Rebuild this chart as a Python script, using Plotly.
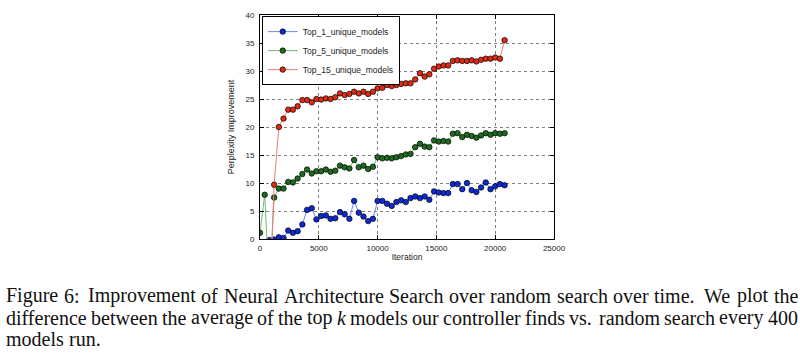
import plotly.graph_objects as go

# ---- data ----
iterations = [i * 400 for i in range(53)]

top1 = [None, -10, -0.2, -0.1, 0.3, 0.2, 1.5, 1.1, 1.4, 2.6,
        5.2, 5.5, 3.5, 4.1, 4.2, 3.6, 3.7, 4.8, 4.4, 3.6,
        6.8, 4.7, 4.0, 3.2, 3.6, 6.8, 6.8, 6.3, 5.9, 6.6,
        6.9, 6.6, 7.3, 7.6, 7.3, 7.6, 7.0, 8.5, 8.3, 8.2,
        8.2, 9.8, 9.8, 8.9, 10.0, 8.7, 8.4, 9.2, 10.1, 8.9,
        9.4, 9.8, 9.6]

top5 = [1.1, 7.9, -9, 7.4, 9.0, 9.0, 10.2, 10.1, 10.8, 11.6,
        12.4, 11.7, 12.1, 12.1, 12.4, 12.0, 12.2, 13.1, 12.8, 12.6,
        14.1, 12.8, 13.1, 12.5, 12.9, 14.6, 14.4, 14.5, 14.4, 14.6,
        14.8, 15.1, 15.2, 16.4, 17.0, 16.5, 16.4, 17.6, 17.4, 17.5,
        17.4, 18.8, 18.9, 18.2, 18.6, 18.4, 18.1, 18.5, 18.9, 18.6,
        18.9, 18.8, 18.9]

top15 = [None, None, -12, 9.7, 20.0, 21.5, 23.1, 23.1, 23.7, 24.8,
         24.8, 24.4, 25.0, 24.9, 25.1, 25.0, 25.3, 26.0, 25.7, 25.9,
         26.3, 26.0, 26.3, 25.9, 26.3, 26.9, 27.0, 27.5, 27.3, 27.5,
         27.7, 27.8, 27.8, 28.5, 29.6, 29.0, 29.4, 30.4, 30.8, 31.0,
         31.0, 31.8, 31.9, 31.8, 31.8, 31.9, 31.7, 32.0, 32.2, 32.2,
         32.4, 32.2, 35.5]

series_names = ["Top_1_unique_models", "Top_5_unique_models", "Top_15_unique_models"]
x_ticks = [0, 5000, 10000, 15000, 20000, 25000]
y_ticks = [0, 5, 10, 15, 20, 25, 30, 35, 40]

caption_lines = [
    "Figure 6: Improvement of Neural Architecture Search over random search over time. We plot the",
    "difference between the average of the top <i>k</i> models our controller finds vs. random search every 400",
    "models run.",
]
caption_justified = [True, True, False]

# ---- styling ----
marker_colors = ["#0b2bd6", "#1d6b1d", "#de2b12"]
line_colors = ["#6f86ff", "#74b874", "#f27a72"]
sans = "Liberation Sans, Arial, sans-serif"

fig = go.Figure()
for name, ys, mc, lc in zip(series_names, [top1, top5, top15], marker_colors, line_colors):
    fig.add_trace(go.Scatter(
        x=iterations, y=ys, name=name, mode="lines+markers",
        line=dict(color=lc, width=1),
        marker=dict(color=mc, size=5.5, line=dict(color="black", width=0.7)),
        connectgaps=False,
    ))

W, H = 800, 354
L, R, T, B = 260, 246, 11, 115
plot_w = W - L - R
plot_h = H - T - B

axis_common = dict(
    showline=True, linecolor="black", linewidth=1, mirror="allticks",
    ticks="inside", ticklen=4, tickcolor="black", tickwidth=1,
    showgrid=True, gridcolor="rgba(0,0,0,0.5)", gridwidth=0.6, griddash="dot",
    zeroline=False,
    tickfont=dict(family=sans, size=8, color="#222"),
)

fig.update_layout(
    width=W, height=H,
    margin=dict(l=L, r=R, t=T, b=B, pad=0),
    paper_bgcolor="white", plot_bgcolor="white",
    xaxis=dict(range=[0, 25000], tickvals=x_ticks, ticktext=[str(v) for v in x_ticks],
               ticklabelstandoff=1,
               title=dict(text="Iteration", font=dict(family=sans, size=8.5, color="#222"), standoff=2),
               **axis_common),
    yaxis=dict(range=[0, 40], tickvals=y_ticks, ticktext=[str(v) for v in y_ticks],
               ticklabelstandoff=3,
               title=dict(text="Perplexity Improvement", font=dict(family=sans, size=9, color="#222"), standoff=9),
               **axis_common),
    legend=dict(x=0.006, y=0.995, xanchor="left", yanchor="top",
                bgcolor="white", bordercolor="black", borderwidth=1,
                font=dict(family=sans, size=8.5, color="#222"),
                tracegroupgap=0, itemwidth=30),
    showlegend=True,
)

def px_to_paper_x(px):
    return (px - L) / plot_w

def py_to_paper_y(py):
    return (H - B - py) / plot_h

# Times / Liberation Serif advance widths (per 1000 em) for justified caption layout
TW = dict(zip("abcdefghijklmnopqrstuvwxyz",
              [444, 500, 444, 500, 444, 333, 500, 500, 278, 278, 500, 278, 778,
               500, 500, 500, 500, 333, 389, 278, 500, 500, 722, 500, 500, 444]))
TW.update(dict(zip("ABCDEFGHIJKLMNOPQRSTUVWXYZ",
                   [722, 667, 667, 722, 611, 556, 722, 722, 333, 389, 722, 611, 889,
                    722, 722, 556, 722, 667, 556, 611, 722, 722, 944, 722, 722, 611])))
TW.update({c: 500 for c in "0123456789"})
TW.update({".": 250, ":": 278, ",": 250})

def word_width(w, fs):
    if w == "<i>k</i>":
        return 444 * fs / 1000
    return sum(TW.get(c, 500) for c in w) * fs / 1000

cap_size = 20
cap_font = dict(family="Liberation Serif, Times New Roman, serif", size=cap_size, color="#111")
left_px, right_px = 5, 797
line_y = [297, 319, 341]
for text, just, py in zip(caption_lines, caption_justified, line_y):
    words = text.split(" ")
    widths = [word_width(w, cap_size) for w in words]
    if just:
        weights = [1.6 if words[i][-1] in ".:" else 1.0 for i in range(len(words) - 1)]
        free = (right_px - left_px) - sum(widths)
        unit = free / sum(weights)
        gaps = [unit * wt for wt in weights]
    else:
        gaps = [0.25 * cap_size] * (len(words) - 1)
    xpos = left_px
    for i, w in enumerate(words):
        fig.add_annotation(x=px_to_paper_x(xpos), y=py_to_paper_y(py), xref="paper", yref="paper",
                           text=w, showarrow=False, xanchor="left", yanchor="middle",
                           font=cap_font, borderpad=0)
        if i < len(gaps):
            xpos += widths[i] + gaps[i]

fig.write_html("out.html")
